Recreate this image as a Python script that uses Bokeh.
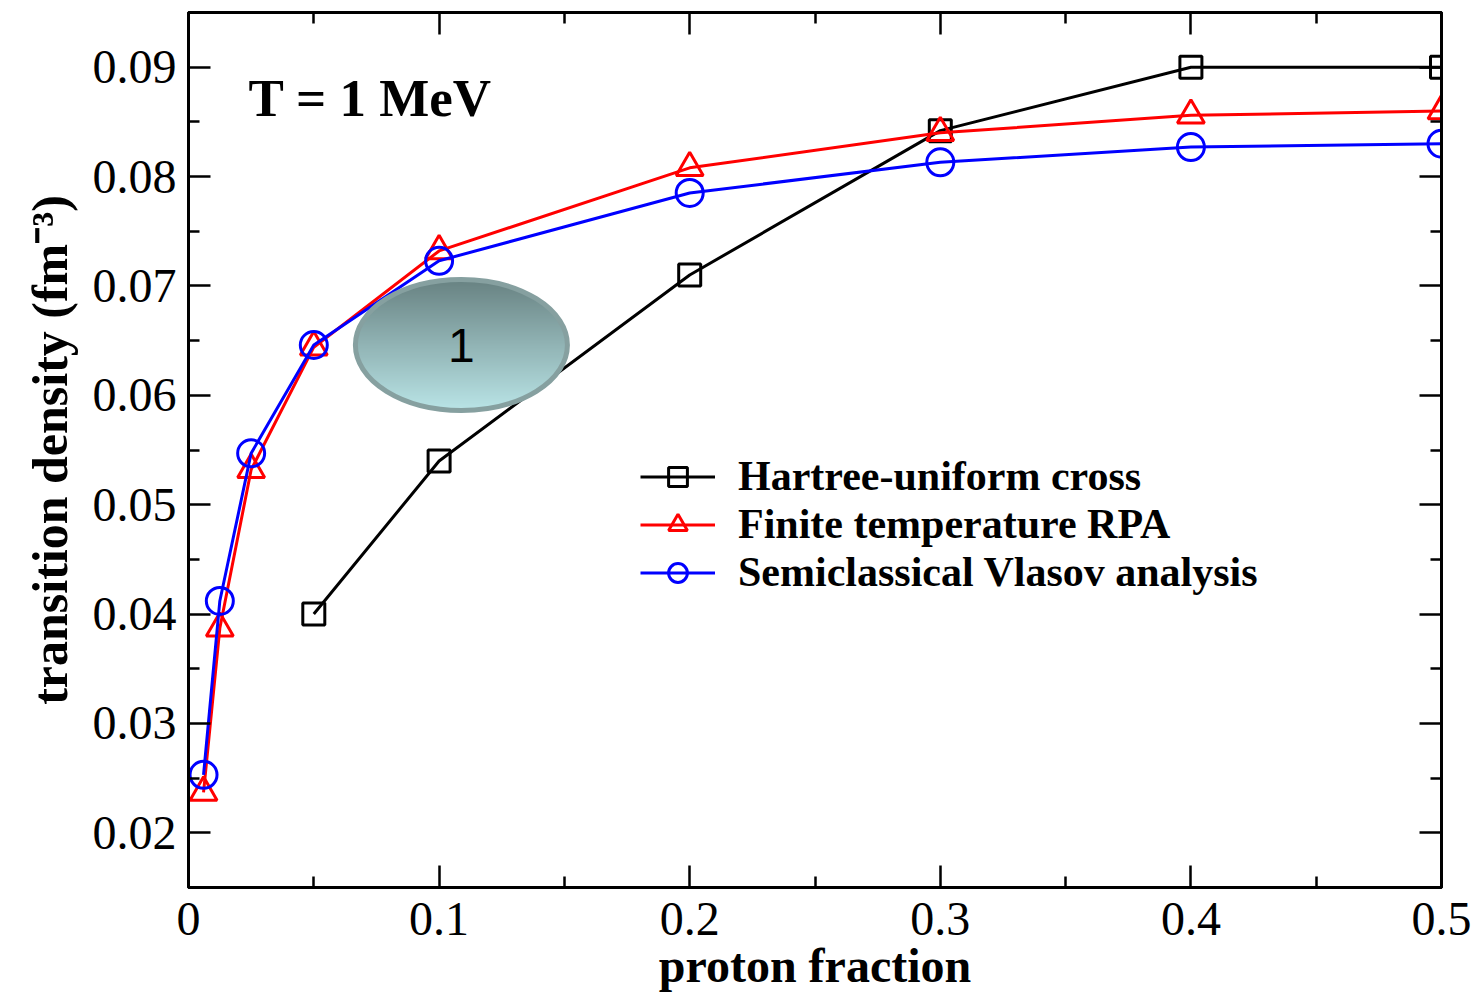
import numpy as np
from bokeh.plotting import figure
from bokeh.models import (FixedTicker, LinearAxis, Label, Legend, LegendItem, Range1d)
from bokeh.embed import file_html
from bokeh.resources import INLINE

# ---- data ----
hartree_x = [0.05, 0.1, 0.2, 0.3, 0.4, 0.5]
hartree_y = [0.0400, 0.0540, 0.0710, 0.0842, 0.0900, 0.0900]

rpa_x = [0.006, 0.0125, 0.025, 0.05, 0.1, 0.2, 0.3, 0.4, 0.5]
rpa_y = [0.0237, 0.0387, 0.0532, 0.0644, 0.0732, 0.0808, 0.0840, 0.0856, 0.0860]

vlasov_x = [0.006, 0.0125, 0.025, 0.05, 0.1, 0.2, 0.3, 0.4, 0.5]
vlasov_y = [0.0253, 0.0412, 0.0547, 0.0646, 0.0723, 0.0785, 0.0813, 0.0827, 0.0830]

x_ticks = [0, 0.1, 0.2, 0.3, 0.4, 0.5]
x_tick_labels = ["0", "0.1", "0.2", "0.3", "0.4", "0.5"]
x_minor = [0.05, 0.15, 0.25, 0.35, 0.45]
y_ticks = [0.02, 0.03, 0.04, 0.05, 0.06, 0.07, 0.08, 0.09]
y_tick_labels = ["0.02", "0.03", "0.04", "0.05", "0.06", "0.07", "0.08", "0.09"]
y_minor = [0.015, 0.025, 0.035, 0.045, 0.055, 0.065, 0.075, 0.085, 0.095]

x_title = "proton fraction"
y_title = "transition density (fm\u207b\u00b3)"

# annotation ellipse (center, size in data units)
ell_cx, ell_cy = 0.1089, 0.0646
ell_w, ell_h = 0.0846, 0.01197

SERIF = "Liberation Serif"

p = figure(width=1477, height=994, output_backend="svg", toolbar_location=None,
           x_range=Range1d(0, 0.5), y_range=Range1d(0.015, 0.095),
           min_border_left=188, min_border_right=36, min_border_top=12,
           min_border_bottom=107)
p.background_fill_color = "white"
p.border_fill_color = "white"
p.xgrid.visible = False
p.ygrid.visible = False
p.outline_line_color = "black"
p.outline_line_width = 3

bottom_ax = p.below[0]
left_ax = p.left[0]
top_ax = LinearAxis()
right_ax = LinearAxis()
p.add_layout(top_ax, "above")
p.add_layout(right_ax, "right")

for ax, ticks, minor in [(bottom_ax, x_ticks, x_minor), (top_ax, x_ticks, x_minor),
                         (left_ax, y_ticks, y_minor), (right_ax, y_ticks, y_minor)]:
    ax.ticker = FixedTicker(ticks=ticks, minor_ticks=minor)
    ax.axis_line_width = 3
    ax.axis_line_color = "black"
    ax.major_tick_line_width = 2.5
    ax.minor_tick_line_width = 2.5
    ax.major_tick_in = 22
    ax.major_tick_out = 0
    ax.minor_tick_in = 11
    ax.minor_tick_out = 0
    ax.major_label_text_font = SERIF
    ax.major_label_text_font_size = "48px"
    ax.major_label_text_color = "black"

for ax in (top_ax, right_ax):
    ax.major_label_text_font_size = "0px"
    ax.major_label_standoff = 0

bottom_ax.major_label_overrides = dict(zip(x_ticks, x_tick_labels))
left_ax.major_label_overrides = dict(zip(y_ticks, y_tick_labels))
bottom_ax.major_label_standoff = 15
left_ax.major_label_standoff = 12

for ax, title in ((bottom_ax, x_title), (left_ax, y_title)):
    ax.axis_label = title
    ax.axis_label_text_font = SERIF
    ax.axis_label_text_font_style = "bold"
    ax.axis_label_text_color = "black"
bottom_ax.axis_label_text_font_size = "48px"
left_ax.axis_label_text_font_size = "50px"
bottom_ax.axis_label_standoff = 1
left_ax.axis_label_standoff = 12

# ---- series ----
l1 = p.line(hartree_x, hartree_y, line_color="black", line_width=3)
s1 = p.scatter(hartree_x, hartree_y, marker="square", size=22, fill_color=None,
               line_color="black", line_width=3)
l2 = p.line(rpa_x, rpa_y, line_color="red", line_width=3)
s2 = p.scatter(rpa_x, rpa_y, marker="triangle", size=27, fill_color=None,
               line_color="red", line_width=3)
l3 = p.line(vlasov_x, vlasov_y, line_color="blue", line_width=3)
s3 = p.scatter(vlasov_x, vlasov_y, marker="circle", size=27, fill_color=None,
               line_color="blue", line_width=3)

# ---- shaded ellipse annotation ----
H, W = 131, 212
img = np.zeros((H, W), dtype=np.uint32)
view = img.view(dtype=np.uint8).reshape((H, W, 4))
yy, xx = np.mgrid[0:H, 0:W]
inside = ((xx + 0.5 - W / 2) / (W / 2)) ** 2 + ((yy + 0.5 - H / 2) / (H / 2)) ** 2 <= 1
t = (yy / (H - 1))[..., None]
c_top = np.array([0x68, 0x82, 0x82], dtype=float)
c_bot = np.array([0xba, 0xe5, 0xe7], dtype=float)
col = c_bot + (c_top - c_bot) * t
view[..., :3] = col.astype(np.uint8)
view[..., 3] = (inside * 255).astype(np.uint8)
p.image_rgba(image=[img], x=ell_cx - ell_w / 2, y=ell_cy - ell_h / 2, dw=ell_w, dh=ell_h)
p.ellipse(x=[ell_cx], y=[ell_cy], width=[ell_w], height=[ell_h], fill_color=None,
          line_color="#86a0a0", line_width=5)
p.add_layout(Label(x=ell_cx, y=ell_cy, text="1", text_font="Liberation Sans",
                   text_font_size="48px", text_color="black", text_align="center",
                   text_baseline="middle"))

# ---- legend ----
legend = Legend(items=[
    LegendItem(label="Hartree-uniform cross", renderers=[l1, s1]),
    LegendItem(label="Finite temperature RPA", renderers=[l2, s2]),
    LegendItem(label="Semiclassical Vlasov analysis", renderers=[l3, s3]),
], location=(452, 291))
legend.label_text_font = SERIF
legend.label_text_font_style = "bold"
legend.label_text_font_size = "42px"
legend.label_text_color = "black"
legend.glyph_width = 75
legend.glyph_height = 47
legend.label_height = 47
legend.label_standoff = 23
legend.spacing = 0
legend.padding = 0
legend.margin = 0
legend.border_line_color = None
legend.background_fill_alpha = 0
p.add_layout(legend, "center")

# ---- temperature label ----
p.add_layout(Label(x=0.0239, y=0.0872, text="T = 1 MeV", text_font=SERIF,
                   text_font_style="bold", text_font_size="53px", text_color="black",
                   text_baseline="alphabetic"))

open("out.html", "w").write(file_html(p, INLINE))
